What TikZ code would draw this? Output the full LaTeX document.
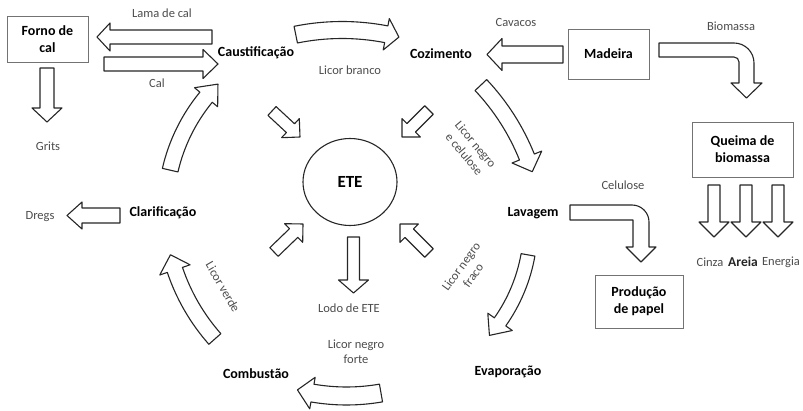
\documentclass[tikz,border=0pt]{standalone}
\usepackage{fontspec}
\setmainfont{Carlito}
\usetikzlibrary{calc,shapes.geometric}

\tikzset{
  barrow/.style={draw=black!85, line width=1.1pt, fill=white, line join=round},
  box/.style={draw=black!55, line width=0.9pt, align=center, inner sep=0pt,
    font=\bfseries\fontsize{14}{17}\selectfont},
  lbl/.style={font=\fontsize{12.5}{15}\selectfont, text=black!70, align=center, inner sep=1pt},
  blab/.style={font=\bfseries\fontsize{14}{17}\selectfont, inner sep=1pt},
}

% straight block arrow: tail, tip, body half width, head half width, head length
\newcommand\blockarrow[5]{%
  \coordinate (babase) at ($(#2)!#5!(#1)$);
  \draw[barrow] ($(#1)!#3!90:(#2)$) -- ($(babase)!#3!90:(#2)$) -- ($(babase)!#4!90:(#2)$)
    -- (#2) -- ($(babase)!#4!-90:(#2)$) -- ($(babase)!#3!-90:(#2)$) -- ($(#1)!#3!-90:(#2)$) -- cycle;}

% curved block arrow: centre, radius, start angle, head-base angle, tip angle, body half width, head half width
\newcommand\curvedblock[7]{%
  \pgfmathsetmacro\cbout{#2+#6}\pgfmathsetmacro\cbin{#2-#6}%
  \pgfmathsetmacro\cbhout{#2+#7}\pgfmathsetmacro\cbhin{#2-#7}%
  \draw[barrow] ($(#1)+(#3:\cbout)$) arc[start angle=#3, end angle=#4, radius=\cbout]
    -- ($(#1)+(#4:\cbhout)$) -- ($(#1)+(#5:#2)$) -- ($(#1)+(#4:\cbhin)$) -- ($(#1)+(#4:\cbin)$)
    arc[start angle=#4, end angle=#3, radius=\cbin] -- cycle;}

\begin{document}
\begin{tikzpicture}[x=1pt, y=1pt]
\useasboundingbox (0,0) rectangle (803,-411);

% boxes
\node[box, minimum width=81pt, minimum height=46pt] (forno) at (47.5,-39) {Forno de\\cal};
\node[box, minimum width=81pt, minimum height=50pt] (madeira) at (608.5,-54) {Madeira};
\node[box, minimum width=101pt, minimum height=55pt] (queima) at (742.5,-149.5) {Queima de\\biomassa};
\node[box, minimum width=88pt, minimum height=53pt] (papel) at (639,-301.5) {Produção\\de papel};

% ETE
\node[draw=black!85, line width=1.1pt, ellipse, minimum width=94pt, minimum height=87pt, inner sep=0pt,
  font=\bfseries\fontsize{17}{19}\selectfont] (ete) at (350,-182) {ETE};

% process labels
\node[blab] (caust) at (256,-53) {Caustificação};
\node[blab] (cozi) at (441,-54) {Cozimento};
\node[blab] (clar) at (163,-213) {Clarificação};
\node[blab] (lav) at (533,-213) {Lavagem};
\node[blab] (evap) at (508,-372) {Evaporação};
\node[blab] (comb) at (256,-374) {Combustão};

% stream labels
\node[lbl] (lama) at (162,-13) {Lama de cal};
\node[lbl] (cal) at (157,-83) {Cal};
\node[lbl] (grits) at (48,-146) {Grits};
\node[lbl] (lbranco) at (350,-70) {Licor branco};
\node[lbl] (cavacos) at (516,-22) {Cavacos};
\node[lbl] (biom) at (731,-26) {Biomassa};
\node[lbl, rotate=-50] (lnc) at (470,-149) {Licor negro\\e celulose};
\node[lbl] (celul) at (623,-185) {Celulose};
\node[lbl] (dregs) at (40,-217) {Dregs};
\node[lbl, rotate=-60] (lverde) at (223,-287) {Licor verde};
\node[lbl] (lodo) at (349,-308) {Lodo de ETE};
\node[lbl, rotate=54] (lnf) at (467,-271) {Licor negro\\fraco};
\node[lbl] (lnforte) at (356,-352) {Licor negro\\forte};
\node[lbl] (cinza) at (710,-262) {Cinza};
\node[font=\bfseries\fontsize{13.5}{15}\selectfont, text=black!85, inner sep=1pt] (areia) at (743,-262) {Areia};
\node[lbl] (energia) at (781,-262) {Energia};

% arrow end points
\coordinate (lamaT) at (212,-37);   \coordinate (lamaH) at (97,-37);
\coordinate (calT) at (104,-64);    \coordinate (calH) at (218,-64);
\coordinate (gritsT) at (47,-68);   \coordinate (gritsH) at (47,-122);
\coordinate (cavT) at (563,-54.5);  \coordinate (cavH) at (487,-54.5);
\coordinate (dregsT) at (120,-215.5); \coordinate (dregsH) at (67,-215.5);
\coordinate (lodoT) at (353.5,-237); \coordinate (lodoH) at (353.5,-293);
\coordinate (q1T) at (714,-185); \coordinate (q1H) at (714,-237);
\coordinate (q2T) at (746,-185); \coordinate (q2H) at (746,-237);
\coordinate (q3T) at (778,-185); \coordinate (q3H) at (778,-237);
\coordinate (tlT) at (272,-111); \coordinate (tlH) at (300,-137);
\coordinate (trT) at (429,-110); \coordinate (trH) at (402,-137);
\coordinate (blT) at (274,-252); \coordinate (blH) at (303,-224);
\coordinate (brT) at (429,-253); \coordinate (brH) at (400,-224);

\blockarrow{lamaT}{lamaH}{7pt}{14pt}{13pt}
\blockarrow{calT}{calH}{7pt}{14.5pt}{15pt}
\blockarrow{gritsT}{gritsH}{7pt}{15pt}{14pt}
\blockarrow{cavT}{cavH}{8.5pt}{16pt}{15pt}
\blockarrow{dregsT}{dregsH}{7.5pt}{13.5pt}{15pt}
\blockarrow{lodoT}{lodoH}{6pt}{15pt}{13pt}
\blockarrow{q1T}{q1H}{6pt}{15pt}{15pt}
\blockarrow{q2T}{q2H}{6pt}{15pt}{15pt}
\blockarrow{q3T}{q3H}{6pt}{15pt}{15pt}
\blockarrow{tlT}{tlH}{6pt}{13pt}{13pt}
\blockarrow{trT}{trH}{6pt}{13pt}{13pt}
\blockarrow{blT}{blH}{6pt}{13pt}{13pt}
\blockarrow{brT}{brH}{6pt}{13pt}{13pt}

% curved arrows
\coordinate (cA) at (343.6,-210.2);
\coordinate (cB) at (342,-262);
\coordinate (cC) at (313.5,-242.8);
\coordinate (cD) at (363.6,-225.6);
\coordinate (cE) at (346.5,-196);
\coordinate (cF) at (365.4,-205.8);
\curvedblock{cA}{178}{167}{140.6}{134.9}{8}{15}
\curvedblock{cB}{232}{101.5}{79}{75.8}{8.5}{16}
\curvedblock{cC}{230}{43.3}{21.9}{18}{8}{16}
\curvedblock{cD}{167}{-10.1}{-35.2}{-41.1}{7}{15}
\curvedblock{cE}{200}{-80.07}{-99.8}{-104.2}{9}{16}
\curvedblock{cF}{201}{221.5}{198.6}{194.1}{8}{16}

% bent arrows
\draw[barrow] (659,-43) -- (734,-43) arc[start angle=90, end angle=0, radius=20] -- (754,-83)
  -- (762,-83) -- (746.5,-98) -- (731,-83) -- (739,-83) -- (739,-62)
  arc[start angle=0, end angle=90, radius=5] -- (659,-57) -- cycle;
\draw[barrow] (570,-205) -- (632,-205) arc[start angle=90, end angle=0, radius=17] -- (649,-247)
  -- (656,-247) -- (641,-262) -- (626,-247) -- (633,-247) -- (633,-220) -- (570,-220) -- cycle;
\end{tikzpicture}
\end{document}
